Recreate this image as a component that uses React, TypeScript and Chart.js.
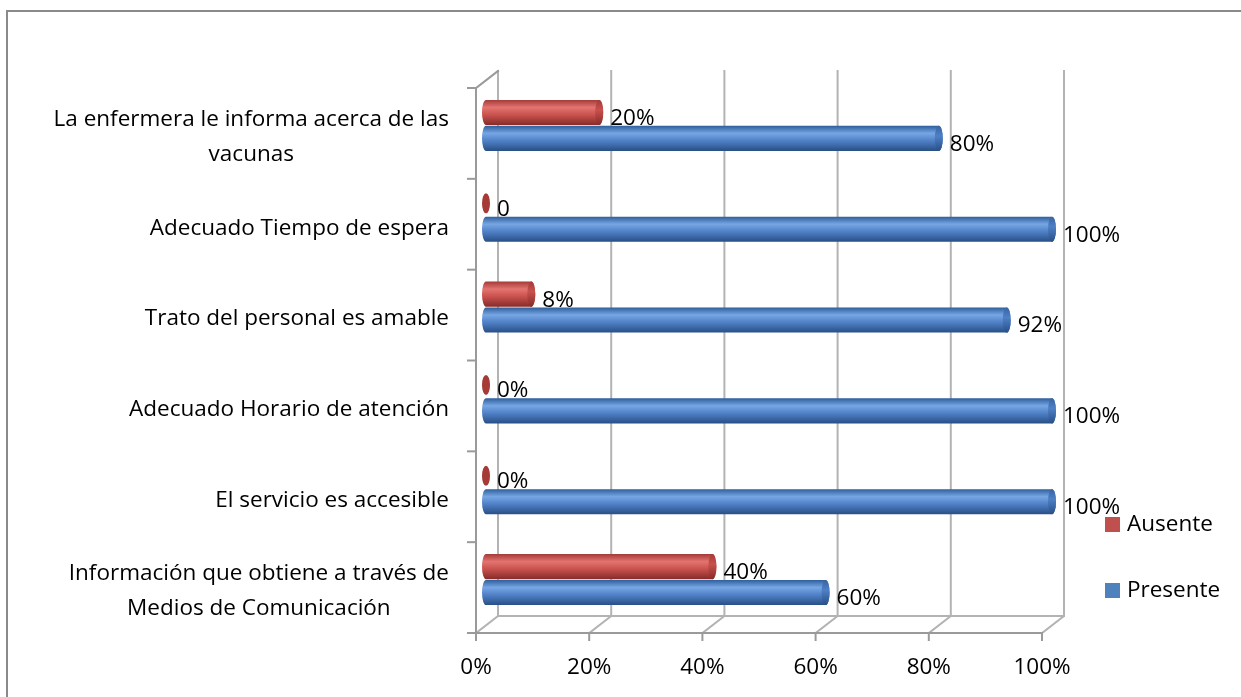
import React, { useEffect, useRef } from "react";
import { Chart, registerables } from "chart.js";

Chart.register(...registerables);

const categories: (string | string[])[] = [
  ["La enfermera le informa acerca de las", "vacunas"],
  "Adecuado Tiempo de espera",
  "Trato del personal es amable",
  "Adecuado Horario de atención",
  "El servicio es accesible",
  ["Información que obtiene a través de", "Medios de Comunicación"],
];
const seriesNames = ["Ausente", "Presente"];
const ausente = [20, 0, 8, 0, 0, 40];
const presente = [80, 100, 92, 100, 100, 60];
const ausenteLabels = ["20%", "0", "8%", "0%", "0%", "40%"];
const presenteLabels = ["80%", "100%", "92%", "100%", "100%", "60%"];
const xTickLabels = ["0%", "20%", "40%", "60%", "80%", "100%"];

const FONT = "'Open Sans', 'Noto Sans', sans-serif";
const FS = 22.5;
const DX = 22; // depth offset x
const DY = -17; // depth offset y
const OX = 10; // bar offset (mid depth)
const OY = -8;

const palettes = [
  { top: "#a33b38", light: "#e4746f", mid: "#c8514d", bottom: "#862b28", cap: "#a63a37", legend: "#c0504d" },
  { top: "#2f5e9c", light: "#76a6e4", mid: "#4f80c6", bottom: "#284f86", cap: "#3764a3", legend: "#4f81bd" },
];
const valueLabels = [ausenteLabels, presenteLabels];

function drawCylinder(ctx: CanvasRenderingContext2D, x0: number, x1: number, yc: number, h: number, p: any) {
  const r = h / 2;
  const rx = 4;
  const g = ctx.createLinearGradient(0, yc - r, 0, yc + r);
  g.addColorStop(0, p.top);
  g.addColorStop(0.3, p.light);
  g.addColorStop(0.6, p.mid);
  g.addColorStop(1, p.bottom);
  ctx.save();
  if (x1 > x0 + 0.5) {
    ctx.fillStyle = g;
    ctx.beginPath();
    ctx.moveTo(x0, yc - r);
    ctx.lineTo(x1, yc - r);
    ctx.ellipse(x1, yc, rx, r, 0, -Math.PI / 2, Math.PI / 2);
    ctx.lineTo(x0, yc + r);
    ctx.ellipse(x0, yc, rx, r, 0, Math.PI / 2, (3 * Math.PI) / 2);
    ctx.closePath();
    ctx.fill();
  }
  const cg = ctx.createLinearGradient(0, yc - r, 0, yc + r);
  cg.addColorStop(0, p.cap);
  cg.addColorStop(0.4, p.mid);
  cg.addColorStop(1, p.bottom);
  ctx.fillStyle = x1 > x0 + 0.5 ? cg : p.cap;
  ctx.beginPath();
  ctx.ellipse(x1, yc, rx, x1 > x0 + 0.5 ? r : r * 0.8, 0, 0, Math.PI * 2);
  ctx.fill();
  ctx.restore();
}

const framePlugin = {
  id: "frame3d",
  beforeDatasetsDraw(chart: any) {
    const { ctx, chartArea, scales } = chart;
    const xs = scales.x;
    const { left, right, top, bottom } = chartArea;
    ctx.save();
    ctx.lineCap = "square";
    ctx.strokeStyle = "#b3b3b3";
    ctx.lineWidth = 2;
    xs.ticks.forEach((t: any) => {
      const px = xs.getPixelForValue(t.value);
      ctx.beginPath();
      ctx.moveTo(px, bottom);
      ctx.lineTo(px + DX, bottom + DY);
      ctx.lineTo(px + DX, top + DY);
      ctx.stroke();
    });
    ctx.beginPath();
    ctx.moveTo(left + DX, bottom + DY);
    ctx.lineTo(right + DX, bottom + DY);
    ctx.stroke();
    ctx.strokeStyle = "#9a9a9a";
    ctx.beginPath();
    ctx.moveTo(left - 8, bottom);
    ctx.lineTo(right, bottom);
    ctx.moveTo(left, top);
    ctx.lineTo(left, bottom);
    ctx.moveTo(left, top);
    ctx.lineTo(left + DX, top + DY);
    ctx.stroke();
    xs.ticks.forEach((t: any) => {
      const px = xs.getPixelForValue(t.value);
      ctx.beginPath();
      ctx.moveTo(px, bottom);
      ctx.lineTo(px, bottom + 7);
      ctx.stroke();
    });
    const n = chart.data.labels.length;
    for (let i = 0; i <= n; i++) {
      const y = top + ((bottom - top) * i) / n;
      ctx.beginPath();
      ctx.moveTo(left - 8, y);
      ctx.lineTo(left, y);
      ctx.stroke();
    }
    ctx.restore();
  },
  afterDatasetsDraw(chart: any) {
    const { ctx, scales, chartArea } = chart;
    ctx.save();
    chart.data.datasets.forEach((ds: any, di: number) => {
      const meta = chart.getDatasetMeta(di);
      meta.data.forEach((el: any, i: number) => {
        const { x, y, base, height } = el.getProps(["x", "y", "base", "height"], true);
        const x0 = base + OX;
        const x1 = x + OX;
        const yc = y + OY;
        drawCylinder(ctx, x0, x1, yc, height, palettes[di]);
        ctx.fillStyle = "#000";
        ctx.font = `${FS}px ${FONT}`;
        ctx.textAlign = "left";
        ctx.textBaseline = "middle";
        ctx.fillText(valueLabels[di][i], x1 + 11, yc + 6);
      });
    });
    const ys = scales.y;
    ctx.fillStyle = "#000";
    ctx.font = `${FS}px ${FONT}`;
    ctx.textBaseline = "middle";
    ctx.textAlign = "center";
    const rightEdge = chartArea.left - 27;
    chart.data.labels.forEach((lab: any, i: number) => {
      const lines: string[] = Array.isArray(lab) ? lab : [lab];
      const w = Math.max(...lines.map((l) => ctx.measureText(l).width));
      const cx = rightEdge - w / 2;
      const cy = ys.getPixelForValue(i) + 4;
      const lh = 35;
      lines.forEach((l, k) => {
        ctx.fillText(l, cx, cy + (k - (lines.length - 1) / 2) * lh);
      });
    });
    ctx.textAlign = "left";
    chart.data.datasets.forEach((ds: any, di: number) => {
      const ly = 524 + di * 66;
      ctx.fillStyle = palettes[di].legend;
      ctx.fillRect(1105, ly - 7, 15, 15);
      ctx.fillStyle = "#000";
      ctx.fillText(ds.label, 1127, ly + 1);
    });
    ctx.restore();
  },
};

export default function App() {
  const ref = useRef<HTMLCanvasElement>(null);
  useEffect(() => {
    if (!ref.current) return;
    const chart = new Chart(ref.current, {
      type: "bar",
      data: {
        labels: categories as any,
        datasets: [
          { label: seriesNames[0], data: ausente, backgroundColor: "rgba(0,0,0,0)", borderWidth: 0 },
          { label: seriesNames[1], data: presente, backgroundColor: "rgba(0,0,0,0)", borderWidth: 0 },
        ],
      },
      options: {
        indexAxis: "y",
        responsive: false,
        animation: false,
        layout: { padding: { left: 476, right: 199, top: 88, bottom: 0 } },
        datasets: { bar: { categoryPercentage: 0.57, barPercentage: 0.97 } } as any,
        plugins: { legend: { display: false }, tooltip: { enabled: false } },
        scales: {
          y: { display: false },
          x: {
            min: 0,
            max: 100,
            grid: { display: false, drawTicks: false },
            border: { display: false },
            afterFit: (s: any) => {
              s.height = 64;
            },
            ticks: {
              stepSize: 20,
              padding: 21,
              color: "#000",
              font: { family: FONT, size: FS },
              callback: (_v: any, i: number) => xTickLabels[i],
            },
          },
        },
      },
      plugins: [framePlugin],
    });
    return () => chart.destroy();
  }, []);
  return (
    <div style={{ position: "fixed", left: 0, top: 0, width: 1241, height: 697, overflow: "hidden", background: "#fff" }}>
      <div
        style={{
          position: "absolute",
          left: 6,
          top: 10,
          width: 1400,
          height: 900,
          borderLeft: "2px solid #8a8a8a",
          borderTop: "2px solid #8a8a8a",
        }}
      />
      <canvas ref={ref} width={1241} height={697} style={{ position: "absolute", left: 0, top: 0 }} />
    </div>
  );
}
